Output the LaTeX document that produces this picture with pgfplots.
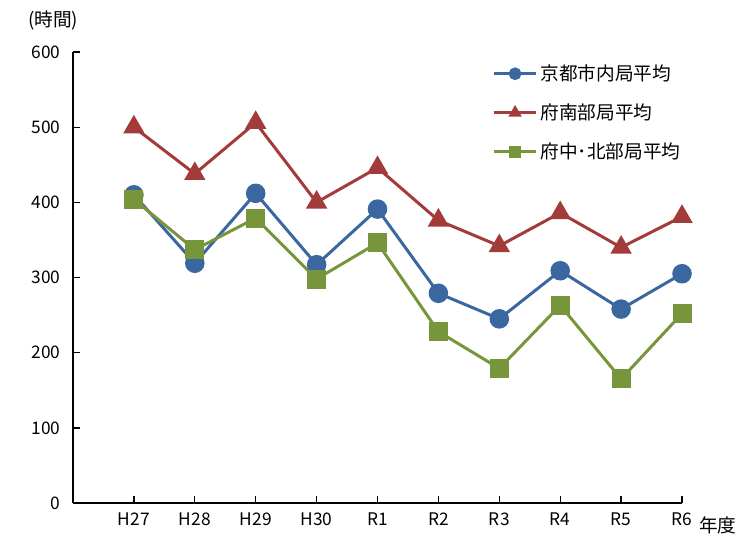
\documentclass[border=0pt]{standalone}
\usepackage{pgfplots}
\pgfplotsset{compat=1.18}
\usepackage{fontspec}
\setmainfont{Noto Sans CJK JP}

\definecolor{cityblue}{HTML}{3A67A0}
\definecolor{southred}{HTML}{A33B3B}
\definecolor{northgreen}{HTML}{77963C}

\begin{document}
\begin{tikzpicture}
\useasboundingbox (-54.75pt,-27pt) rectangle (510pt,377.25pt);
\begin{axis}[
  scale only axis,
  width=456.75pt, height=338.25pt,
  xmin=-1, xmax=9,
  ymin=0, ymax=600,
  axis x line=bottom, axis y line=left,
  axis line style={-, line width=1.1pt, black},
  xtick={0,...,9},
  xticklabels={H27,H28,H29,H30,R1,R2,R3,R4,R5,R6},
  ytick={0,100,...,600},
  tick align=inside,
  major tick length=5pt,
  tick style={line width=1pt, black},
  tick label style={font=\fontsize{13}{15}\selectfont},
  /pgf/number format/assume math mode=true,
  xticklabel style={yshift=-4pt},
  yticklabel style={xshift=-6pt},
  clip=false,
  legend cell align=left,
  legend style={draw=none, fill=none, inner sep=0pt,
    font=\fontsize{14}{16}\selectfont, row sep=12pt,
    at={(axis description cs:0.688,0.978)}, anchor=north west},
  legend image code/.code={
    \draw[mark repeat=2,mark phase=2,#1,mark size=3.6pt]
      plot coordinates {(0pt,0pt) (16pt,0pt) (32pt,0pt)};},
]
\addplot[color=cityblue, line width=2.25pt, mark=*, mark size=6.2pt,
  mark options={solid}] coordinates {
  (0,410) (1,319) (2,412) (3,317) (4,391)
  (5,279) (6,245) (7,309) (8,258) (9,305)};
\addlegendentry{京都市内局平均}
\addplot[color=southred, line width=2.25pt, mark=triangle*, mark size=7pt,
  mark options={solid}] coordinates {
  (0,500) (1,438) (2,506) (3,400) (4,446)
  (5,376) (6,342) (7,386) (8,340) (9,381)};
\addlegendentry{府南部局平均}
\addplot[color=northgreen, line width=2.25pt, mark=square*, mark size=6pt,
  mark options={solid}] coordinates {
  (0,404) (1,337) (2,379) (3,298) (4,346)
  (5,228) (6,179) (7,263) (8,165) (9,252)};
\addlegendentry{府中･北部局平均}

% unit label of the vertical axis, upper left
\node[font=\fontsize{14}{16}\selectfont, anchor=west, inner sep=0pt]
  at (axis description cs:-0.074,1.069) {(時間)};
\node[font=\fontsize{14}{16}\selectfont, anchor=center]
  at (axis description cs:1.059,-0.049) {年度};
\end{axis}
\end{tikzpicture}
\end{document}
